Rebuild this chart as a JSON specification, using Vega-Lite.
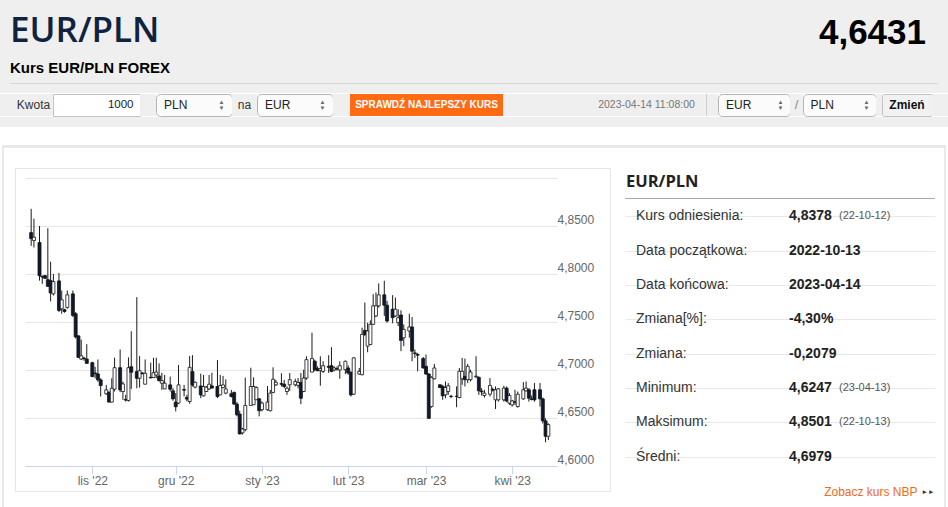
{
  "$schema": "https://vega.github.io/schema/vega-lite/v6.json",
  "padding": 0,
  "background": "#ffffff",
  "config": {"view": {"stroke": null}, "concat": {"spacing": 0}, "font": "Liberation Sans"},
  "datasets": {
    "candles": [
      {"date": "2022-10-10", "open": 4.8431, "high": 4.8679, "low": 4.8293, "close": 4.8369},
      {"date": "2022-10-11", "open": 4.8348, "high": 4.8576, "low": 4.8276, "close": 4.8383},
      {"date": "2022-10-13", "open": 4.8328, "high": 4.8500, "low": 4.7931, "close": 4.7983},
      {"date": "2022-10-14", "open": 4.7976, "high": 4.7983, "low": 4.7897, "close": 4.7969},
      {"date": "2022-10-15", "open": 4.7983, "high": 4.7990, "low": 4.7948, "close": 4.7955},
      {"date": "2022-10-16", "open": 4.7941, "high": 4.8476, "low": 4.7865, "close": 4.7872},
      {"date": "2022-10-17", "open": 4.7931, "high": 4.8128, "low": 4.7714, "close": 4.7803},
      {"date": "2022-10-18", "open": 4.7793, "high": 4.8000, "low": 4.7776, "close": 4.7921},
      {"date": "2022-10-20", "open": 4.7928, "high": 4.8010, "low": 4.7603, "close": 4.7621},
      {"date": "2022-10-21", "open": 4.7638, "high": 4.7828, "low": 4.7586, "close": 4.7731},
      {"date": "2022-10-22", "open": 4.7628, "high": 4.7638, "low": 4.7597, "close": 4.7610},
      {"date": "2022-10-23", "open": 4.7652, "high": 4.7828, "low": 4.7638, "close": 4.7783},
      {"date": "2022-10-25", "open": 4.7793, "high": 4.7828, "low": 4.7552, "close": 4.7569},
      {"date": "2022-10-26", "open": 4.7586, "high": 4.7603, "low": 4.7328, "close": 4.7345},
      {"date": "2022-10-27", "open": 4.7355, "high": 4.7362, "low": 4.7128, "close": 4.7131},
      {"date": "2022-10-28", "open": 4.7114, "high": 4.7317, "low": 4.7103, "close": 4.7148},
      {"date": "2022-10-29", "open": 4.7124, "high": 4.7138, "low": 4.7097, "close": 4.7118},
      {"date": "2022-10-30", "open": 4.7114, "high": 4.7269, "low": 4.7065, "close": 4.7069},
      {"date": "2022-11-01", "open": 4.7076, "high": 4.7086, "low": 4.6928, "close": 4.6931},
      {"date": "2022-11-02", "open": 4.6969, "high": 4.7034, "low": 4.6914, "close": 4.6962},
      {"date": "2022-11-03", "open": 4.6959, "high": 4.7110, "low": 4.6879, "close": 4.6897},
      {"date": "2022-11-04", "open": 4.6897, "high": 4.6914, "low": 4.6724, "close": 4.6838},
      {"date": "2022-11-06", "open": 4.6752, "high": 4.6845, "low": 4.6741, "close": 4.6793},
      {"date": "2022-11-07", "open": 4.6769, "high": 4.6776, "low": 4.6662, "close": 4.6666},
      {"date": "2022-11-08", "open": 4.6666, "high": 4.6914, "low": 4.6662, "close": 4.6810},
      {"date": "2022-11-09", "open": 4.6800, "high": 4.7128, "low": 4.6776, "close": 4.7024},
      {"date": "2022-11-11", "open": 4.7024, "high": 4.7214, "low": 4.6769, "close": 4.6793},
      {"date": "2022-11-12", "open": 4.6776, "high": 4.6879, "low": 4.6690, "close": 4.6855},
      {"date": "2022-11-13", "open": 4.6693, "high": 4.6741, "low": 4.6672, "close": 4.6687},
      {"date": "2022-11-14", "open": 4.6683, "high": 4.7131, "low": 4.6672, "close": 4.7024},
      {"date": "2022-11-15", "open": 4.7034, "high": 4.7403, "low": 4.6803, "close": 4.6976},
      {"date": "2022-11-17", "open": 4.6983, "high": 4.7759, "low": 4.6810, "close": 4.6914},
      {"date": "2022-11-18", "open": 4.6914, "high": 4.7145, "low": 4.6817, "close": 4.6993},
      {"date": "2022-11-19", "open": 4.6969, "high": 4.6976, "low": 4.6955, "close": 4.6962},
      {"date": "2022-11-20", "open": 4.6852, "high": 4.7110, "low": 4.6852, "close": 4.6966},
      {"date": "2022-11-22", "open": 4.6924, "high": 4.7076, "low": 4.6914, "close": 4.6917},
      {"date": "2022-11-23", "open": 4.6921, "high": 4.7128, "low": 4.6921, "close": 4.6972},
      {"date": "2022-11-24", "open": 4.6948, "high": 4.7128, "low": 4.6914, "close": 4.6979},
      {"date": "2022-11-25", "open": 4.6938, "high": 4.7069, "low": 4.6879, "close": 4.6890},
      {"date": "2022-11-26", "open": 4.6862, "high": 4.6972, "low": 4.6793, "close": 4.6890},
      {"date": "2022-11-27", "open": 4.6803, "high": 4.6948, "low": 4.6800, "close": 4.6862},
      {"date": "2022-11-29", "open": 4.6845, "high": 4.6931, "low": 4.6776, "close": 4.6800},
      {"date": "2022-11-30", "open": 4.6783, "high": 4.6810, "low": 4.6679, "close": 4.6700},
      {"date": "2022-12-01", "open": 4.6666, "high": 4.6759, "low": 4.6569, "close": 4.6617},
      {"date": "2022-12-02", "open": 4.6655, "high": 4.7052, "low": 4.6645, "close": 4.6845},
      {"date": "2022-12-04", "open": 4.6796, "high": 4.6845, "low": 4.6724, "close": 4.6790},
      {"date": "2022-12-05", "open": 4.6714, "high": 4.6741, "low": 4.6672, "close": 4.6697},
      {"date": "2022-12-06", "open": 4.6672, "high": 4.7145, "low": 4.6648, "close": 4.7028},
      {"date": "2022-12-07", "open": 4.6983, "high": 4.7155, "low": 4.6828, "close": 4.6845},
      {"date": "2022-12-08", "open": 4.6821, "high": 4.6879, "low": 4.6810, "close": 4.6872},
      {"date": "2022-12-10", "open": 4.6834, "high": 4.6962, "low": 4.6707, "close": 4.6741},
      {"date": "2022-12-11", "open": 4.6731, "high": 4.6948, "low": 4.6724, "close": 4.6828},
      {"date": "2022-12-12", "open": 4.6776, "high": 4.6834, "low": 4.6776, "close": 4.6821},
      {"date": "2022-12-13", "open": 4.6803, "high": 4.6948, "low": 4.6793, "close": 4.6852},
      {"date": "2022-12-14", "open": 4.6834, "high": 4.6972, "low": 4.6808, "close": 4.6812},
      {"date": "2022-12-16", "open": 4.6828, "high": 4.7103, "low": 4.6707, "close": 4.6724},
      {"date": "2022-12-17", "open": 4.6741, "high": 4.6948, "low": 4.6741, "close": 4.6838},
      {"date": "2022-12-18", "open": 4.6817, "high": 4.6938, "low": 4.6810, "close": 4.6845},
      {"date": "2022-12-19", "open": 4.6759, "high": 4.6903, "low": 4.6748, "close": 4.6803},
      {"date": "2022-12-21", "open": 4.6752, "high": 4.6793, "low": 4.6714, "close": 4.6724},
      {"date": "2022-12-22", "open": 4.6766, "high": 4.6776, "low": 4.6638, "close": 4.6645},
      {"date": "2022-12-23", "open": 4.6645, "high": 4.6666, "low": 4.6517, "close": 4.6534},
      {"date": "2022-12-24", "open": 4.6541, "high": 4.6576, "low": 4.6330, "close": 4.6334},
      {"date": "2022-12-25", "open": 4.6345, "high": 4.6397, "low": 4.6328, "close": 4.6386},
      {"date": "2022-12-26", "open": 4.6379, "high": 4.6921, "low": 4.6362, "close": 4.6631},
      {"date": "2022-12-28", "open": 4.6631, "high": 4.7024, "low": 4.6631, "close": 4.6828},
      {"date": "2022-12-29", "open": 4.6638, "high": 4.6924, "low": 4.6638, "close": 4.6828},
      {"date": "2022-12-30", "open": 4.6690, "high": 4.6828, "low": 4.6690, "close": 4.6817},
      {"date": "2022-12-31", "open": 4.6700, "high": 4.6707, "low": 4.6517, "close": 4.6576},
      {"date": "2023-01-01", "open": 4.6586, "high": 4.6672, "low": 4.6569, "close": 4.6655},
      {"date": "2023-01-03", "open": 4.6586, "high": 4.6834, "low": 4.6576, "close": 4.6666},
      {"date": "2023-01-04", "open": 4.6576, "high": 4.6793, "low": 4.6569, "close": 4.6759},
      {"date": "2023-01-05", "open": 4.6766, "high": 4.7028, "low": 4.6759, "close": 4.6903},
      {"date": "2023-01-06", "open": 4.6845, "high": 4.6897, "low": 4.6834, "close": 4.6872},
      {"date": "2023-01-08", "open": 4.6858, "high": 4.6966, "low": 4.6828, "close": 4.6852},
      {"date": "2023-01-09", "open": 4.6852, "high": 4.6897, "low": 4.6810, "close": 4.6828},
      {"date": "2023-01-10", "open": 4.6776, "high": 4.6828, "low": 4.6741, "close": 4.6810},
      {"date": "2023-01-11", "open": 4.6846, "high": 4.6969, "low": 4.6783, "close": 4.6899},
      {"date": "2023-01-13", "open": 4.6846, "high": 4.6909, "low": 4.6829, "close": 4.6881},
      {"date": "2023-01-14", "open": 4.6840, "high": 4.6916, "low": 4.6810, "close": 4.6870},
      {"date": "2023-01-15", "open": 4.6871, "high": 4.6969, "low": 4.6643, "close": 4.6706},
      {"date": "2023-01-16", "open": 4.6776, "high": 4.7003, "low": 4.6769, "close": 4.6916},
      {"date": "2023-01-17", "open": 4.6916, "high": 4.7143, "low": 4.6899, "close": 4.7108},
      {"date": "2023-01-19", "open": 4.6979, "high": 4.7388, "low": 4.6976, "close": 4.7119},
      {"date": "2023-01-20", "open": 4.7091, "high": 4.7108, "low": 4.6986, "close": 4.7003},
      {"date": "2023-01-21", "open": 4.7014, "high": 4.7038, "low": 4.6986, "close": 4.6993},
      {"date": "2023-01-22", "open": 4.6993, "high": 4.7143, "low": 4.6836, "close": 4.7014},
      {"date": "2023-01-23", "open": 4.6986, "high": 4.7091, "low": 4.6969, "close": 4.7045},
      {"date": "2023-01-25", "open": 4.7038, "high": 4.7154, "low": 4.6969, "close": 4.7028},
      {"date": "2023-01-26", "open": 4.7045, "high": 4.7238, "low": 4.6976, "close": 4.6986},
      {"date": "2023-01-27", "open": 4.7000, "high": 4.7038, "low": 4.6986, "close": 4.7021},
      {"date": "2023-01-28", "open": 4.7014, "high": 4.7038, "low": 4.6993, "close": 4.7010},
      {"date": "2023-01-29", "open": 4.7000, "high": 4.7091, "low": 4.6909, "close": 4.7045},
      {"date": "2023-01-31", "open": 4.7003, "high": 4.7098, "low": 4.6958, "close": 4.7091},
      {"date": "2023-02-01", "open": 4.7021, "high": 4.7049, "low": 4.6951, "close": 4.6969},
      {"date": "2023-02-02", "open": 4.6976, "high": 4.6986, "low": 4.6724, "close": 4.6741},
      {"date": "2023-02-03", "open": 4.6748, "high": 4.7133, "low": 4.6741, "close": 4.7126},
      {"date": "2023-02-05", "open": 4.6958, "high": 4.7021, "low": 4.6951, "close": 4.6986},
      {"date": "2023-02-06", "open": 4.6951, "high": 4.7441, "low": 4.6944, "close": 4.7371},
      {"date": "2023-02-07", "open": 4.7413, "high": 4.7703, "low": 4.7353, "close": 4.7371},
      {"date": "2023-02-08", "open": 4.7248, "high": 4.7493, "low": 4.7185, "close": 4.7406},
      {"date": "2023-02-09", "open": 4.7266, "high": 4.7517, "low": 4.7259, "close": 4.7476},
      {"date": "2023-02-10", "open": 4.7476, "high": 4.7790, "low": 4.7469, "close": 4.7668},
      {"date": "2023-02-11", "open": 4.7563, "high": 4.7808, "low": 4.7552, "close": 4.7668},
      {"date": "2023-02-12", "open": 4.7668, "high": 4.7902, "low": 4.7650, "close": 4.7783},
      {"date": "2023-02-14", "open": 4.7783, "high": 4.7930, "low": 4.7563, "close": 4.7675},
      {"date": "2023-02-15", "open": 4.7675, "high": 4.7720, "low": 4.7493, "close": 4.7510},
      {"date": "2023-02-17", "open": 4.7633, "high": 4.7780, "low": 4.7486, "close": 4.7545},
      {"date": "2023-02-18", "open": 4.7563, "high": 4.7755, "low": 4.7552, "close": 4.7633},
      {"date": "2023-02-19", "open": 4.7493, "high": 4.7633, "low": 4.7458, "close": 4.7545},
      {"date": "2023-02-20", "open": 4.7573, "high": 4.7622, "low": 4.7196, "close": 4.7308},
      {"date": "2023-02-21", "open": 4.7336, "high": 4.7476, "low": 4.7248, "close": 4.7423},
      {"date": "2023-02-23", "open": 4.7406, "high": 4.7587, "low": 4.7336, "close": 4.7448},
      {"date": "2023-02-24", "open": 4.7448, "high": 4.7552, "low": 4.7091, "close": 4.7196},
      {"date": "2023-02-25", "open": 4.7178, "high": 4.7213, "low": 4.7126, "close": 4.7172},
      {"date": "2023-02-26", "open": 4.7161, "high": 4.7178, "low": 4.6986, "close": 4.7154},
      {"date": "2023-02-28", "open": 4.7119, "high": 4.7136, "low": 4.7014, "close": 4.7021},
      {"date": "2023-03-01", "open": 4.7038, "high": 4.7161, "low": 4.6951, "close": 4.6958},
      {"date": "2023-03-02", "open": 4.6958, "high": 4.6969, "low": 4.6490, "close": 4.6497},
      {"date": "2023-03-03", "open": 4.6619, "high": 4.6934, "low": 4.6608, "close": 4.6923},
      {"date": "2023-03-04", "open": 4.6909, "high": 4.7063, "low": 4.6902, "close": 4.7021},
      {"date": "2023-03-06", "open": 4.6846, "high": 4.6853, "low": 4.6811, "close": 4.6818},
      {"date": "2023-03-07", "open": 4.6829, "high": 4.6846, "low": 4.6689, "close": 4.6731},
      {"date": "2023-03-08", "open": 4.6741, "high": 4.6881, "low": 4.6706, "close": 4.6818},
      {"date": "2023-03-09", "open": 4.6776, "high": 4.6864, "low": 4.6741, "close": 4.6836},
      {"date": "2023-03-10", "open": 4.6727, "high": 4.6741, "low": 4.6706, "close": 4.6724},
      {"date": "2023-03-12", "open": 4.6724, "high": 4.6829, "low": 4.6612, "close": 4.6727},
      {"date": "2023-03-13", "open": 4.6713, "high": 4.7021, "low": 4.6706, "close": 4.6986},
      {"date": "2023-03-14", "open": 4.6909, "high": 4.7126, "low": 4.6846, "close": 4.6986},
      {"date": "2023-03-15", "open": 4.6934, "high": 4.7119, "low": 4.6829, "close": 4.6899},
      {"date": "2023-03-16", "open": 4.6899, "high": 4.7063, "low": 4.6864, "close": 4.7038},
      {"date": "2023-03-17", "open": 4.6899, "high": 4.7003, "low": 4.6881, "close": 4.6979},
      {"date": "2023-03-19", "open": 4.6930, "high": 4.7143, "low": 4.6916, "close": 4.6936},
      {"date": "2023-03-20", "open": 4.6923, "high": 4.6934, "low": 4.6741, "close": 4.6783},
      {"date": "2023-03-21", "open": 4.6780, "high": 4.6811, "low": 4.6734, "close": 4.6773},
      {"date": "2023-03-22", "open": 4.6734, "high": 4.6794, "low": 4.6713, "close": 4.6759},
      {"date": "2023-03-24", "open": 4.6748, "high": 4.6916, "low": 4.6724, "close": 4.6839},
      {"date": "2023-03-25", "open": 4.6797, "high": 4.6818, "low": 4.6776, "close": 4.6790},
      {"date": "2023-03-26", "open": 4.6689, "high": 4.6829, "low": 4.6594, "close": 4.6794},
      {"date": "2023-03-27", "open": 4.6689, "high": 4.6811, "low": 4.6671, "close": 4.6804},
      {"date": "2023-03-29", "open": 4.6689, "high": 4.6836, "low": 4.6671, "close": 4.6811},
      {"date": "2023-03-30", "open": 4.6811, "high": 4.6829, "low": 4.6664, "close": 4.6678},
      {"date": "2023-03-31", "open": 4.6654, "high": 4.6759, "low": 4.6636, "close": 4.6734},
      {"date": "2023-04-01", "open": 4.6636, "high": 4.6689, "low": 4.6619, "close": 4.6678},
      {"date": "2023-04-02", "open": 4.6668, "high": 4.6794, "low": 4.6636, "close": 4.6664},
      {"date": "2023-04-03", "open": 4.6619, "high": 4.6776, "low": 4.6608, "close": 4.6748},
      {"date": "2023-04-05", "open": 4.6699, "high": 4.6874, "low": 4.6689, "close": 4.6794},
      {"date": "2023-04-06", "open": 4.6783, "high": 4.6881, "low": 4.6776, "close": 4.6811},
      {"date": "2023-04-07", "open": 4.6794, "high": 4.6811, "low": 4.6671, "close": 4.6706},
      {"date": "2023-04-08", "open": 4.6699, "high": 4.6734, "low": 4.6685, "close": 4.6692},
      {"date": "2023-04-09", "open": 4.6794, "high": 4.6864, "low": 4.6671, "close": 4.6689},
      {"date": "2023-04-11", "open": 4.6794, "high": 4.6864, "low": 4.6619, "close": 4.6699},
      {"date": "2023-04-12", "open": 4.6699, "high": 4.6713, "low": 4.6444, "close": 4.6470},
      {"date": "2023-04-13", "open": 4.6470, "high": 4.6497, "low": 4.6247, "close": 4.6310},
      {"date": "2023-04-14", "open": 4.6310, "high": 4.6445, "low": 4.6270, "close": 4.6431}
    ]
  },
  "spacing": 0,
  "vconcat": [
    {
      "spacing": 0, "bounds": "flush",
      "hconcat": [
        {
          "width": 600, "height": 83, "view": {"fill": "#efefef"},
          "data": {"values": [{}]}, "mark": {"type": "text", "fontSize": 0}, "encoding": {"text": {"value": ""}},
          "title": {
            "text": "EUR/PLN", "subtitle": "Kurs EUR/PLN FOREX",
            "anchor": "start", "frame": "group", "orient": "top", "baseline": "top",
            "font": "Open Sans", "fontSize": 35, "fontWeight": 600, "color": "#0f2341",
            "subtitleFont": "Liberation Sans", "subtitleFontSize": 15, "subtitleFontWeight": "bold",
            "subtitleColor": "#000000", "subtitlePadding": 12, "dx": 10, "offset": -76
          }
        },
        {
          "width": 348, "height": 83, "view": {"fill": "#efefef"},
          "data": {"values": [{}]}, "mark": {"type": "text", "fontSize": 0}, "encoding": {"text": {"value": ""}},
          "title": {
            "text": "4,6431", "anchor": "end", "frame": "group", "orient": "top", "baseline": "top",
            "font": "Liberation Sans", "fontSize": 35, "fontWeight": "bold", "color": "#000000",
            "dx": -22, "offset": -51
          }
        }
      ]
    },
    {
      "spacing": 0, "bounds": "flush",
      "hconcat": [
        {"width": 10, "height": 1, "view": {"fill": "#efefef"}, "data": {"values": [{}]}, "mark": {"type": "text", "fontSize": 0}, "encoding": {"text": {"value": ""}}},
        {"width": 928, "height": 1, "view": {"fill": "#d6d6d6"}, "data": {"values": [{}]}, "mark": {"type": "text", "fontSize": 0}, "encoding": {"text": {"value": ""}}},
        {"width": 10, "height": 1, "view": {"fill": "#efefef"}, "data": {"values": [{}]}, "mark": {"type": "text", "fontSize": 0}, "encoding": {"text": {"value": ""}}}
      ]
    },
    {"width": 948, "height": 9, "view": {"fill": "#efefef"}, "data": {"values": [{}]}, "mark": {"type": "text", "fontSize": 0}, "encoding": {"text": {"value": ""}}},
    {
      "spacing": 0, "bounds": "flush",
      "hconcat": [
        {"width": 14, "height": 22, "view": {"fill": "#efefef"}, "data": {"values": [{}]}, "mark": {"type": "text", "fontSize": 0}, "encoding": {"text": {"value": ""}}},
        {"width": 39, "height": 22, "view": {"fill": "#efefef"}, "data": {"values": [{"t": "Kwota"}]},
         "mark": {"type": "text", "fontSize": 12, "color": "#333333"}, "encoding": {"text": {"field": "t", "type": "nominal"}}},
        {"width": 87, "height": 22, "view": {"fill": "#ffffff", "stroke": "#c3c3c3"}, "data": {"values": [{"t": "1000"}]},
         "mark": {"type": "text", "align": "right", "dx": 37, "fontSize": 11.5, "color": "#222222"}, "encoding": {"text": {"field": "t", "type": "nominal"}}},
        {"width": 16, "height": 22, "view": {"fill": "#efefef"}, "data": {"values": [{}]}, "mark": {"type": "text", "fontSize": 0}, "encoding": {"text": {"value": ""}}},
        {"width": 76, "height": 22, "view": {"fill": "#fbfbfb", "stroke": "#b5b5b5", "cornerRadius": 4}, "data": {"values": [{"t": "PLN"}]},
         "layer": [
           {"mark": {"type": "text", "align": "left", "dx": -30, "fontSize": 12, "color": "#222222"}, "encoding": {"text": {"field": "t", "type": "nominal"}}},
           {"mark": {"type": "text", "fontSize": 6, "dx": 27.5, "dy": -3, "color": "#666666"}, "encoding": {"text": {"value": "▲"}}},
           {"mark": {"type": "text", "fontSize": 6, "dx": 27.5, "dy": 3, "color": "#666666"}, "encoding": {"text": {"value": "▼"}}}
         ]},
        {"width": 25, "height": 22, "view": {"fill": "#efefef"}, "data": {"values": [{"t": "na"}]},
         "mark": {"type": "text", "fontSize": 12, "color": "#333333"}, "encoding": {"text": {"field": "t", "type": "nominal"}}},
        {"width": 76, "height": 22, "view": {"fill": "#fbfbfb", "stroke": "#b5b5b5", "cornerRadius": 4}, "data": {"values": [{"t": "EUR"}]},
         "layer": [
           {"mark": {"type": "text", "align": "left", "dx": -30, "fontSize": 12, "color": "#222222"}, "encoding": {"text": {"field": "t", "type": "nominal"}}},
           {"mark": {"type": "text", "fontSize": 6, "dx": 27.5, "dy": -3, "color": "#666666"}, "encoding": {"text": {"value": "▲"}}},
           {"mark": {"type": "text", "fontSize": 6, "dx": 27.5, "dy": 3, "color": "#666666"}, "encoding": {"text": {"value": "▼"}}}
         ]},
        {"width": 17, "height": 22, "view": {"fill": "#efefef"}, "data": {"values": [{}]}, "mark": {"type": "text", "fontSize": 0}, "encoding": {"text": {"value": ""}}},
        {"width": 153, "height": 22, "view": {"fill": "#ff6a13"}, "data": {"values": [{"t": "SPRAWDŹ NAJLEPSZY KURS"}]},
         "mark": {"type": "text", "fontSize": 10, "fontWeight": "bold", "color": "#ffffff"}, "encoding": {"text": {"field": "t", "type": "nominal"}}},
        {"width": 92, "height": 22, "view": {"fill": "#efefef"}, "data": {"values": [{}]}, "mark": {"type": "text", "fontSize": 0}, "encoding": {"text": {"value": ""}}},
        {"width": 103, "height": 22, "view": {"fill": "#efefef"}, "data": {"values": [{"t": "2023-04-14 11:08:00"}]},
         "mark": {"type": "text", "fontSize": 10.5, "color": "#777777"}, "encoding": {"text": {"field": "t", "type": "nominal"}}},
        {"width": 8, "height": 22, "view": {"fill": "#efefef"}, "data": {"values": [{}]}, "mark": {"type": "text", "fontSize": 0}, "encoding": {"text": {"value": ""}}},
        {"width": 1, "height": 22, "view": {"fill": "#cfcfcf"}, "data": {"values": [{}]}, "mark": {"type": "text", "fontSize": 0}, "encoding": {"text": {"value": ""}}},
        {"width": 11, "height": 22, "view": {"fill": "#efefef"}, "data": {"values": [{}]}, "mark": {"type": "text", "fontSize": 0}, "encoding": {"text": {"value": ""}}},
        {"width": 72, "height": 22, "view": {"fill": "#fbfbfb", "stroke": "#b5b5b5", "cornerRadius": 4}, "data": {"values": [{"t": "EUR"}]},
         "layer": [
           {"mark": {"type": "text", "align": "left", "dx": -28, "fontSize": 12, "color": "#222222"}, "encoding": {"text": {"field": "t", "type": "nominal"}}},
           {"mark": {"type": "text", "fontSize": 6, "dx": 26.5, "dy": -3, "color": "#666666"}, "encoding": {"text": {"value": "▲"}}},
           {"mark": {"type": "text", "fontSize": 6, "dx": 26.5, "dy": 3, "color": "#666666"}, "encoding": {"text": {"value": "▼"}}}
         ]},
        {"width": 13, "height": 22, "view": {"fill": "#efefef"}, "data": {"values": [{"t": "/"}]},
         "mark": {"type": "text", "fontSize": 13, "color": "#8a8a8a"}, "encoding": {"text": {"field": "t", "type": "nominal"}}},
        {"width": 73, "height": 22, "view": {"fill": "#fbfbfb", "stroke": "#b5b5b5", "cornerRadius": 4}, "data": {"values": [{"t": "PLN"}]},
         "layer": [
           {"mark": {"type": "text", "align": "left", "dx": -29, "fontSize": 12, "color": "#222222"}, "encoding": {"text": {"field": "t", "type": "nominal"}}},
           {"mark": {"type": "text", "fontSize": 6, "dx": 27, "dy": -3, "color": "#666666"}, "encoding": {"text": {"value": "▲"}}},
           {"mark": {"type": "text", "fontSize": 6, "dx": 27, "dy": 3, "color": "#666666"}, "encoding": {"text": {"value": "▼"}}}
         ]},
        {"width": 6, "height": 22, "view": {"fill": "#efefef"}, "data": {"values": [{}]}, "mark": {"type": "text", "fontSize": 0}, "encoding": {"text": {"value": ""}}},
        {"width": 50, "height": 22, "view": {"fill": "#f1f1f1", "stroke": "#c2c2c2", "cornerRadius": 2}, "data": {"values": [{"t": "Zmień"}]},
         "mark": {"type": "text", "fontSize": 12, "fontWeight": "bold", "color": "#111111"}, "encoding": {"text": {"field": "t", "type": "nominal"}}},
        {"width": 16, "height": 22, "view": {"fill": "#efefef"}, "data": {"values": [{}]}, "mark": {"type": "text", "fontSize": 0}, "encoding": {"text": {"value": ""}}}
      ]
    },
    {"width": 948, "height": 10, "view": {"fill": "#efefef"}, "data": {"values": [{}]}, "mark": {"type": "text", "fontSize": 0}, "encoding": {"text": {"value": ""}}},
    {"width": 948, "height": 18, "data": {"values": [{}]}, "mark": {"type": "text", "fontSize": 0}, "encoding": {"text": {"value": ""}}},
    {
      "spacing": 0, "bounds": "flush",
      "hconcat": [
        {"width": 2, "height": 3, "data": {"values": [{}]}, "mark": {"type": "text", "fontSize": 0}, "encoding": {"text": {"value": ""}}},
        {"width": 944, "height": 3, "view": {"fill": "#e9e9e9"}, "data": {"values": [{}]}, "mark": {"type": "text", "fontSize": 0}, "encoding": {"text": {"value": ""}}},
        {"width": 2, "height": 3, "data": {"values": [{}]}, "mark": {"type": "text", "fontSize": 0}, "encoding": {"text": {"value": ""}}}
      ]
    },
    {
      "spacing": 0,
      "hconcat": [
        {"width": 2, "height": 361, "data": {"values": [{}]}, "mark": {"type": "text", "fontSize": 0}, "encoding": {"text": {"value": ""}}},
        {"width": 2, "height": 361, "view": {"fill": "#e9e9e9"}, "data": {"values": [{}]}, "mark": {"type": "text", "fontSize": 0}, "encoding": {"text": {"value": ""}}},
        {
          "spacing": 0,
          "hconcat": [
            {"width": 11, "height": 361, "data": {"values": [{}]}, "mark": {"type": "text", "fontSize": 0}, "encoding": {"text": {"value": ""}}},
            {
              "spacing": 0,
              "vconcat": [
                {"width": 596, "height": 20, "data": {"values": [{}]}, "mark": {"type": "text", "fontSize": 0}, "encoding": {"text": {"value": ""}}},
                {
                  "spacing": 0,
                  "hconcat": [
                    {"width": 1, "height": 324, "view": {"fill": "#e6e6e6"}, "data": {"values": [{}]}, "mark": {"type": "text", "fontSize": 0}, "encoding": {"text": {"value": ""}}},
                    {
                      "spacing": 0,
                      "vconcat": [
                        {"width": 594, "height": 1, "view": {"fill": "#e6e6e6"}, "data": {"values": [{}]}, "mark": {"type": "text", "fontSize": 0}, "encoding": {"text": {"value": ""}}},
                        {"width": 594, "height": 9, "data": {"values": [{}]}, "mark": {"type": "text", "fontSize": 0}, "encoding": {"text": {"value": ""}}},
                        {
                          "spacing": 0, "bounds": "flush",
                          "hconcat": [
                            {"width": 9, "height": 313, "data": {"values": [{}]}, "mark": {"type": "text", "fontSize": 0}, "encoding": {"text": {"value": ""}}},
                            {
                              "width": 532, "height": 288,
                              "data": {"name": "candles"},
                              "encoding": {
                                "x": {
                                  "field": "date", "type": "temporal",
                                  "scale": {"type": "utc", "domain": [
                                    {"year": 2022, "month": 10, "date": 9, "hours": 14, "utc": true},
                                    {"year": 2023, "month": 4, "date": 15, "hours": 7, "minutes": 30, "utc": true}
                                  ]},
                                  "axis": {
                                    "title": null, "grid": false,
                                    "domainColor": "#ccd6eb", "tickColor": "#ccd6eb", "tickSize": 8,
                                    "labelColor": "#666666", "labelFont": "Liberation Sans", "labelFontSize": 12,
                                    "labelPadding": 1, "labelFlush": false, "labelOverlap": false,
                                    "tickCount": {"interval": "month", "step": 1},
                                    "labelExpr": "['sty','lut','mar','kwi','maj','cze','lip','sie','wrz','paź','lis','gru'][utcmonth(datum.value)] + \" '\" + utcFormat(datum.value, '%y')"
                                  }
                                }
                              },
                              "layer": [
                                {
                                  "mark": {"type": "rule", "color": "#1b1b1b", "strokeWidth": 1},
                                  "encoding": {
                                    "y": {
                                      "field": "low", "type": "quantitative",
                                      "scale": {"domain": [4.6, 4.9], "zero": false, "nice": false},
                                      "axis": {
                                        "orient": "right", "title": null,
                                        "values": [4.6, 4.65, 4.7, 4.75, 4.8, 4.85, 4.9],
                                        "grid": true, "gridColor": "#e6e6e6", "domain": false, "ticks": false,
                                        "labelColor": "#666666", "labelFont": "Liberation Sans", "labelFontSize": 12,
                                        "labelPadding": 0, "labelAlign": "left", "labelBaseline": "bottom",
                                        "labelExpr": "datum.value > 4.89 ? '' : replace(format(datum.value, '.4f'), '.', ',')"
                                      }
                                    },
                                    "y2": {"field": "high"}
                                  }
                                },
                                {
                                  "mark": {"type": "bar", "width": 3, "stroke": "#111111", "strokeWidth": 0.8},
                                  "encoding": {
                                    "y": {"field": "open", "type": "quantitative"},
                                    "y2": {"field": "close"},
                                    "fill": {"condition": {"test": "datum.close < datum.open", "value": "#0c1a30"}, "value": "#ffffff"}
                                  }
                                }
                              ]
                            },
                            {"width": 53, "height": 313, "data": {"values": [{}]}, "mark": {"type": "text", "fontSize": 0}, "encoding": {"text": {"value": ""}}}
                          ]
                        },
                        {"width": 594, "height": 1, "view": {"fill": "#e6e6e6"}, "data": {"values": [{}]}, "mark": {"type": "text", "fontSize": 0}, "encoding": {"text": {"value": ""}}}
                      ]
                    },
                    {"width": 1, "height": 324, "view": {"fill": "#e6e6e6"}, "data": {"values": [{}]}, "mark": {"type": "text", "fontSize": 0}, "encoding": {"text": {"value": ""}}}
                  ]
                },
                {"width": 596, "height": 17, "data": {"values": [{}]}, "mark": {"type": "text", "fontSize": 0}, "encoding": {"text": {"value": ""}}}
              ]
            },
            {"width": 14, "height": 361, "data": {"values": [{}]}, "mark": {"type": "text", "fontSize": 0}, "encoding": {"text": {"value": ""}}},
            {
              "spacing": 0, "bounds": "flush",
              "vconcat": [
                {"width": 310, "height": 50, "data": {"values": [{}]}, "mark": {"type": "text", "fontSize": 0}, "encoding": {"text": {"value": ""}}},
                {
                  "width": 310, "height": 1, "view": {"fill": "#a9a9a9"},
                  "data": {"values": [{}]}, "mark": {"type": "text", "fontSize": 0}, "encoding": {"text": {"value": ""}},
                  "title": {
                    "text": "EUR/PLN", "anchor": "start", "frame": "group", "orient": "top", "baseline": "top",
                    "font": "Open Sans", "fontSize": 16.5, "fontWeight": "bold", "color": "#222222",
                    "offset": 7.5, "dx": 1
                  }
                },
                {
                  "width": 310, "height": 275,
                  "data": {"values": [
                    {"label": "Kurs odniesienia:", "value": "4,8378", "date": "(22-10-12)"},
                    {"label": "Data początkowa:", "value": "2022-10-13", "date": ""},
                    {"label": "Data końcowa:", "value": "2023-04-14", "date": ""},
                    {"label": "Zmiana[%]:", "value": "-4,30%", "date": ""},
                    {"label": "Zmiana:", "value": "-0,2079", "date": ""},
                    {"label": "Minimum:", "value": "4,6247", "date": "(23-04-13)"},
                    {"label": "Maksimum:", "value": "4,8501", "date": "(22-10-13)"},
                    {"label": "Średni:", "value": "4,6979", "date": ""}
                  ]},
                  "encoding": {
                    "y": {
                      "field": "label", "type": "nominal", "sort": null,
                      "scale": {"paddingInner": 0, "paddingOuter": 0},
                      "axis": {"title": null, "labels": false, "ticks": false, "domain": false, "grid": true, "gridColor": "#e8e8e8", "bandPosition": 1}
                    }
                  },
                  "layer": [
                    {"mark": {"type": "text", "align": "left", "dx": -144, "fontSize": 14, "color": "#333333"}, "encoding": {"text": {"field": "label", "type": "nominal"}}},
                    {"mark": {"type": "text", "align": "left", "dx": 9, "fontSize": 14, "fontWeight": "bold", "color": "#222222"}, "encoding": {"text": {"field": "value", "type": "nominal"}}},
                    {"mark": {"type": "text", "align": "left", "dx": 59, "fontSize": 11, "color": "#555555"}, "encoding": {"text": {"field": "date", "type": "nominal"}}}
                  ]
                },
                {
                  "width": 310, "height": 35,
                  "data": {"values": [{"t": "Zobacz kurs NBP"}]},
                  "layer": [
                    {"mark": {"type": "text", "align": "right", "dx": 137.5, "fontSize": 12, "color": "#f26a1b"}, "encoding": {"text": {"field": "t", "type": "nominal"}}},
                    {"mark": {"type": "text", "align": "left", "dx": 141.5, "fontSize": 6.5, "color": "#333333"}, "encoding": {"text": {"value": "►►"}}}
                  ]
                }
              ]
            },
            {"width": 9, "height": 361, "data": {"values": [{}]}, "mark": {"type": "text", "fontSize": 0}, "encoding": {"text": {"value": ""}}}
          ]
        },
        {"width": 2, "height": 361, "view": {"fill": "#e9e9e9"}, "data": {"values": [{}]}, "mark": {"type": "text", "fontSize": 0}, "encoding": {"text": {"value": ""}}},
        {"width": 2, "height": 361, "data": {"values": [{}]}, "mark": {"type": "text", "fontSize": 0}, "encoding": {"text": {"value": ""}}}
      ]
    }
  ]
}
